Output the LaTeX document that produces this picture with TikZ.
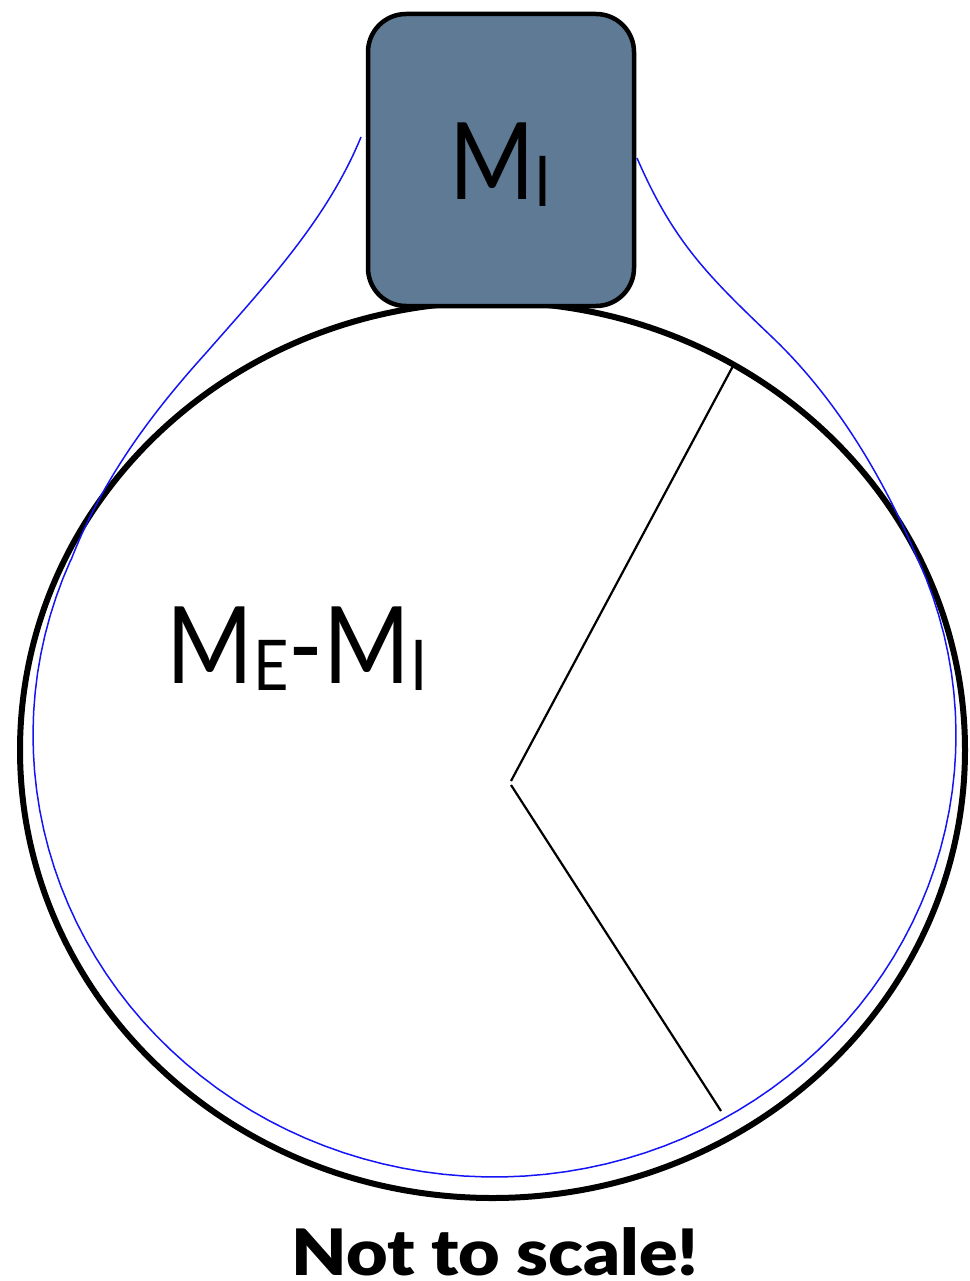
\documentclass[tikz,border=0pt]{standalone}
\usepackage{fontspec}
\usepackage{graphicx}
\setmainfont{Lato}
\newfontfamily\heavyfont{Lato Black}
\definecolor{boxblue}{RGB}{95,122,149}
\definecolor{orbitblue}{RGB}{20,20,245}
\newcommand\narrowtxt[2][0.86]{\scalebox{#1}[1]{#2}}
\newcommand\subtxt[1]{\raisebox{-7pt}{\fontsize{70}{70}\selectfont #1}}
\begin{document}
\begin{tikzpicture}[x=1pt,y=-1pt,
  rim/.style={line width=6pt},
  orbit/.style={orbitblue, line width=1.5pt, line join=round},
  radline/.style={line width=2.2pt},
  massbox/.style={draw, line width=4.5pt, fill=boxblue, rounded corners=38pt,
    minimum width=266pt, minimum height=292pt, inner sep=0pt},
  biglbl/.style={inner sep=0pt, font=\fontsize{107}{107}\selectfont},
  notelbl/.style={inner sep=0pt, font=\heavyfont\fontsize{64}{64}\selectfont}
]
\useasboundingbox (0,0) rectangle (969,1281);
% big body
\draw[rim] (492.5,750) ellipse [x radius=472.5, y radius=448];
% blue outline (teardrop)
\draw[orbit] (361,137) .. controls (327,220) and (265,285.5) .. (206,353)
  .. controls (150,415) and (102,480) .. (71,560)
  -- plot[domain=-23.3:203.3, samples=90, variable=\t] ({494.5-461.5*cos(\t)},{735+442*sin(\t)})
  -- (918,560) .. controls (884,479) and (837,399) .. (772,337)
  .. controls (707,275) and (673,241) .. (637,158);
% radial lines
\coordinate (rimA) at (733,366);
\coordinate (ctrA) at (511,781);
\coordinate (ctrB) at (511,785);
\coordinate (rimB) at (721,1111);
\draw[radline] (rimA) -- (ctrA);
\draw[radline] (ctrB) -- (rimB);
% inner mass box
\node[massbox] (mi) at (501,160) {};
\node[biglbl, anchor=base west] (mitext) at (449,200) {\narrowtxt{M\subtxt{I}}};
% label in body
\node[biglbl, anchor=base west] (memi) at (166,683) {\narrowtxt[0.875]{M\subtxt{E}-M\subtxt{I}}};
% note
\node[notelbl, anchor=base] (note) at (495,1275) {\scalebox{1.12}[1]{Not to scale!}};
\end{tikzpicture}
\end{document}
